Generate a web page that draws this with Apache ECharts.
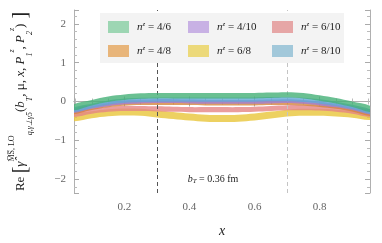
<!DOCTYPE html>
<html><head><meta charset="utf-8">
<script src="https://cdn.jsdelivr.net/npm/echarts@6/dist/echarts.min.js"></script>
<style>html,body{margin:0;padding:0;background:#fff}#c{width:382px;height:243px}</style>
</head><body><div id="c"></div>
<script>
const xs = [0.04,0.1,0.15,0.2,0.25,0.3,0.35,0.4,0.45,0.5,0.55,0.6,0.65,0.7,0.75,0.8,0.85,0.9,0.96];
const labels = ['4/6','4/10','6/10','4/8','6/8','8/10'];
const green46  = [-0.16,-0.03,0.06,0.11,0.14,0.15,0.15,0.15,0.15,0.15,0.15,0.15,0.16,0.17,0.15,0.09,0.02,-0.07,-0.20];
const blue810  = [-0.22,-0.11,-0.03,0.02,0.04,0.05,0.05,0.05,0.05,0.05,0.05,0.05,0.06,0.06,0.04,0.00,-0.06,-0.14,-0.27];
const purple410= [-0.25,-0.14,-0.07,-0.02,0.00,0.01,0.01,0.00,-0.01,-0.01,-0.01,-0.01,0.00,0.01,-0.01,-0.05,-0.10,-0.17,-0.29];
const orange48 = [-0.28,-0.17,-0.10,-0.06,-0.04,-0.04,-0.04,-0.04,-0.05,-0.05,-0.05,-0.05,-0.04,-0.04,-0.06,-0.09,-0.14,-0.21,-0.33];
const red610   = [-0.33,-0.25,-0.20,-0.18,-0.18,-0.19,-0.20,-0.21,-0.21,-0.21,-0.21,-0.20,-0.18,-0.16,-0.16,-0.17,-0.20,-0.25,-0.33];
const yellow68 = [-0.41,-0.34,-0.29,-0.27,-0.28,-0.32,-0.36,-0.40,-0.43,-0.44,-0.43,-0.40,-0.35,-0.30,-0.28,-0.28,-0.30,-0.33,-0.38];
const halfWidth = {'4/6':0.07,'4/10':0.05,'6/10':0.065,'4/8':0.05,'6/8':0.09,'8/10':0.055};
const centers = {'4/6':green46,'4/10':purple410,'6/10':red610,'4/8':orange48,'6/8':yellow68,'8/10':blue810};
const fillColor = {'4/6':'#45b077','4/10':'#9f80d6','6/10':'#e58585','4/8':'#d5843e','6/8':'#e8c53a','8/10':'#62a8d4'};
const swatchColor = {'4/6':'#9dd6b3','4/10':'#c8b1e4','6/10':'#e6a6a6','4/8':'#e8b57a','6/8':'#ecd97a','8/10':'#a2c8da'};
const drawOrder = ['6/8','6/10','4/8','4/10','8/10','4/6'];
const xTicks = [0.2,0.4,0.6,0.8];
const yTicks = [-2,-1,0,1,2];
const dashX = [0.3,0.7];

const FONT = 'Liberation Serif';
const series = [];
drawOrder.forEach((k, idx) => {
  const c = centers[k], h = halfWidth[k];
  const rows = xs.map((x,i)=>[x, +(c[i]-h).toFixed(3), +(c[i]+h).toFixed(3)]);
  const s = {type:'custom', name:'n=' + k, silent:true, clip:true, z: 2+idx,
    itemStyle:{color: swatchColor[k]},
    encode:{x:0, y:[1,2]},
    data: rows,
    renderItem: function(params, api){
      if (params.dataIndex !== 0) return null;
      const upper = rows.map(r=>api.coord([r[0], r[2]]));
      const lower = rows.map(r=>api.coord([r[0], r[1]])).reverse();
      return {type:'group', children:[
        {type:'polygon', shape:{points: upper.concat(lower), smooth:0.35},
         style:{fill: fillColor[k], opacity:0.8}}]};
    }};
  if (idx === 0) {
    s.markLine = {silent:true, symbol:['none','none'], label:{show:false},
      data: dashX.map((v,j)=>({xAxis:v, lineStyle:{color: j===0?'#555':'#c4c4c4', type:[4,3], width:1}}))};
  }
  series.push(s);
});

function legendFor(keys, left){
  return {orient:'vertical', left:left, top:16, itemWidth:21, itemHeight:12, itemGap:12, icon:'rect', z:20,
    selectedMode:false,
    data: keys.map(k=>({name:'n='+k, itemStyle:{color:swatchColor[k], opacity:1}})),
    formatter: n => '{i|n}{s|z}{r| = ' + n.slice(2) + '}',
    textStyle:{fontFamily:FONT, color:'#222', fontSize:11, padding:[0,0,0,3],
      rich:{i:{fontStyle:'italic', fontFamily:FONT, fontSize:11, color:'#222'},
            s:{fontStyle:'italic', fontFamily:FONT, fontSize:7, color:'#222', padding:[0,0,5,0]},
            r:{fontFamily:FONT, fontSize:11, color:'#222'}}}};
}

const axisCommon = {axisLine:{show:true, lineStyle:{color:'#b0b0b0', width:1}},
  axisTick:{show:true, inside:true, length:5, lineStyle:{color:'#aaa'}},
  splitLine:{show:false}};
function ax(extra, minorSplit){
  return Object.assign({}, JSON.parse(JSON.stringify(axisCommon)),
    {minorTick:{show:true, splitNumber:minorSplit, length:3, lineStyle:{color:'#bbb'}}}, extra);
}

const ymin = -2.36, ymax = 2.36, xmin = 0.045, xmax = 0.955;
const option = {
  animation:false,
  grid:{left:74, right:12, top:10, bottom:49},
  xAxis:[
    ax({type:'value', min:xmin, max:xmax, splitNumber:5, position:'bottom',
      axisLabel:{color:'#666', fontFamily:FONT, fontSize:11, margin:9, showMinLabel:false, showMaxLabel:false,
        formatter:v=> xTicks.some(t=>Math.abs(t-v)<1e-6) ? v.toFixed(1) : ''},
      name:'x', nameLocation:'middle', nameGap:31, nameTextStyle:{fontFamily:FONT, fontStyle:'italic', fontSize:14, color:'#222'}}, 4),
    ax({type:'value', min:xmin, max:xmax, splitNumber:5, position:'top', axisLabel:{show:false}}, 4)
  ],
  yAxis:[
    ax({type:'value', min:ymin, max:ymax, splitNumber:5, position:'left',
      axisLabel:{color:'#666', fontFamily:FONT, fontSize:11, margin:8, showMinLabel:false, showMaxLabel:false,
        formatter:v=> yTicks.some(t=>Math.abs(t-v)<1e-6) ? (v<0?'\u2212'+Math.abs(v):String(v)) : ''},
      name:'{r|Re }{b|[}{g|γ̂}{sup|M̅S̅, LO}{sub|q,γ\u22A5γ5}{r|(}{it|b}{sub|T}{r|, μ, }{it|x}{r|, }{it|P}{sub|1}{supi|z}{r|, }{it|P}{sub|2}{supi|z}{r|)}{b| ]}',
      nameLocation:'middle', nameRotate:90, nameGap:40,
      nameTextStyle:{fontFamily:FONT, fontSize:13, color:'#222', lineHeight:26,
        rich:{r:{fontFamily:FONT, fontSize:13, color:'#222'},
              it:{fontFamily:FONT, fontStyle:'italic', fontSize:13, color:'#222'},
              b:{fontFamily:FONT, fontSize:20, color:'#222'},
              g:{fontFamily:FONT, fontStyle:'italic', fontSize:13, color:'#222'},
              sup:{fontFamily:FONT, fontSize:8, color:'#222', verticalAlign:'top'},
              supi:{fontFamily:FONT, fontStyle:'italic', fontSize:8, color:'#222', verticalAlign:'top'},
              sub:{fontFamily:FONT, fontStyle:'italic', fontSize:8, color:'#222', verticalAlign:'bottom'}}}}, 5),
    ax({type:'value', min:ymin, max:ymax, splitNumber:5, position:'right', axisLabel:{show:false}}, 5)
  ],
  legend:[ legendFor(['4/6','4/8'],103), legendFor(['4/10','6/8'],183), legendFor(['6/10','8/10'],267) ],
  graphic:[
    {type:'rect', shape:{x:100, y:13, width:244, height:50}, style:{fill:'#f3f3f3'}, z:10, silent:true},
    {type:'text', style:{text:'{i|b}{s|T}{r| = 0.36 fm}', x:213, y:179, align:'center', verticalAlign:'middle',
      rich:{i:{fontFamily:FONT, fontStyle:'italic', fontSize:10, fill:'#222'},
            s:{fontFamily:FONT, fontStyle:'italic', fontSize:7, fill:'#222', padding:[4,0,0,0]},
            r:{fontFamily:FONT, fontSize:10, fill:'#222'}}}, z:10}
  ],
  series: series
};
const chart = echarts.init(document.getElementById('c'), null, {renderer:'canvas'});
chart.setOption(option);
</script></body></html>
